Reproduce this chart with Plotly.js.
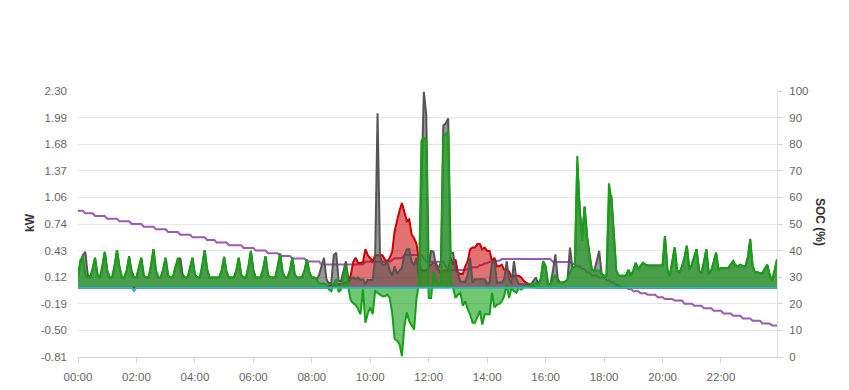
<!DOCTYPE html>
<html>
<head>
<meta charset="utf-8">
<script src="https://cdn.plot.ly/plotly-3.0.1.min.js"></script>
<style>
html,body{margin:0;padding:0;background:#fff;}
#chart{width:849px;height:390px;}
</style>
</head>
<body>
<div id="chart"></div>
<script>
// 5-minute samples, 00:00 .. 23:55 (one row = one hour)
const loadKw = [
0.12,0.30,0.38,0.42,0.15,0.12,0.22,0.35,0.15,0.12,0.25,0.42,
0.20,0.12,0.12,0.25,0.44,0.25,0.12,0.12,0.20,0.37,0.20,0.12,
0.12,0.22,0.35,0.14,0.12,0.12,0.26,0.45,0.20,0.12,0.12,0.22,
0.35,0.14,0.12,0.12,0.25,0.30,0.35,0.15,0.12,0.12,0.22,0.35,
0.15,0.12,0.12,0.25,0.44,0.22,0.12,0.12,0.12,0.12,0.12,0.20,
0.36,0.18,0.12,0.12,0.12,0.20,0.35,0.15,0.12,0.12,0.25,0.43,
0.20,0.12,0.12,0.12,0.22,0.37,0.15,0.12,0.12,0.12,0.25,0.40,
0.18,0.12,0.12,0.20,0.35,0.15,0.12,0.12,0.12,0.20,0.33,0.18,
0.12,0.12,0.10,0.15,0.25,0.35,0.10,0.05,0.06,0.38,0.41,0.08,
0.08,0.20,0.31,0.10,0.10,0.12,0.10,0.12,0.09,0.10,0.04,0.09,
0.09,0.09,0.35,2.04,0.37,0.27,0.27,0.31,0.20,0.14,0.25,0.16,
0.20,0.23,0.38,0.45,0.45,0.30,0.27,0.35,0.12,1.20,2.29,2.02,
0.23,0.43,0.42,0.25,0.23,0.30,1.90,1.92,1.98,0.41,0.41,0.20,
0.17,0.07,0.07,0.07,0.15,0.35,0.06,0.10,0.10,0.10,0.10,0.10,
0.04,0.06,0.31,0.31,0.06,0.06,0.06,0.10,0.31,0.10,0.04,0.31,
0.10,0.04,0.04,0.04,0.04,0.04,0.04,0.08,0.12,0.04,0.10,0.31,
0.25,0.04,0.04,0.20,0.39,0.10,0.06,0.06,0.07,0.10,0.47,0.23,
0.25,1.45,0.92,0.60,0.95,0.60,0.37,0.21,0.20,0.30,0.43,0.16,
0.14,0.14,1.00,1.08,0.65,0.20,0.14,0.14,0.14,0.14,0.21,0.14,
0.20,0.29,0.22,0.26,0.29,0.27,0.26,0.26,0.26,0.26,0.26,0.26,
0.26,0.60,0.21,0.14,0.30,0.47,0.20,0.18,0.25,0.35,0.49,0.21,
0.27,0.35,0.45,0.20,0.17,0.30,0.45,0.16,0.20,0.30,0.41,0.21,
0.23,0.23,0.23,0.23,0.27,0.31,0.26,0.25,0.27,0.25,0.25,0.35,
0.57,0.25,0.18,0.18,0.17,0.17,0.22,0.27,0.15,0.08,0.20,0.33
];
const pvKw = [
0,0,0,0,0,0,0,0,0,0,0,0,
0,0,0,0,0,0,0,0,0,0,0,0,
0,0,0,0,0,0,0,0,0,0,0,0,
0,0,0,0,0,0,0,0,0,0,0,0,
0,0,0,0,0,0,0,0,0,0,0,0,
0,0,0,0,0,0,0,0,0,0,0,0,
0,0,0,0,0,0,0,0,0,0,0,0,
0,0,0,0,0,0,0,0,0,0,0,0,
0,0,0,0,0,0,0,0.02,0.03,0.03,0.04,0.04,
0.04,0.05,0.06,0.06,0.15,0.30,0.35,0.29,0.29,0.30,0.45,0.38,
0.35,0.31,0.38,0.38,0.38,0.38,0.33,0.31,0.35,0.42,0.66,0.80,
0.90,0.99,0.89,0.78,0.80,0.62,0.58,0.51,0.31,0.20,0.20,0.20,
0.25,0.27,0.29,0.29,0.21,0.17,0.20,0.20,0.20,0.35,0.27,0.33,
0.18,0.16,0.16,0.25,0.31,0.45,0.47,0.47,0.51,0.51,0.45,0.47,
0.43,0.43,0.31,0.35,0.25,0.25,0.27,0.21,0.21,0.19,0.12,0.14,
0.14,0.14,0.12,0.08,0.06,0.04,0.03,0.02,0,0,0,0,
0,0,0,0,0,0,0,0,0,0,0,0,
0,0,0,0,0,0,0,0,0,0,0,0,
0,0,0,0,0,0,0,0,0,0,0,0,
0,0,0,0,0,0,0,0,0,0,0,0,
0,0,0,0,0,0,0,0,0,0,0,0,
0,0,0,0,0,0,0,0,0,0,0,0,
0,0,0,0,0,0,0,0,0,0,0,0,
0,0,0,0,0,0,0,0,0,0,0,0
];
const batteryKw = [
0.12,0.33,0.35,0.15,0.12,0.12,0.22,0.35,0.15,0.12,0.25,0.42,
0.20,0.12,0.12,0.25,0.44,0.25,0.12,0.12,0.20,0.36,0.15,0.12,
0.12,0.22,0.35,0.14,0.12,0.12,0.26,0.45,0.20,0.12,0.12,0.22,
0.35,0.14,0.12,0.12,0.25,0.35,0.20,0.12,0.12,0.12,0.22,0.35,
0.15,0.12,0.12,0.25,0.44,0.22,0.12,0.12,0.12,0.12,0.12,0.20,
0.36,0.18,0.12,0.12,0.12,0.20,0.35,0.15,0.12,0.12,0.25,0.43,
0.20,0.12,0.12,0.12,0.22,0.37,0.15,0.12,0.12,0.12,0.25,0.40,
0.18,0.12,0.12,0.20,0.35,0.15,0.12,0.12,0.12,0.20,0.33,0.18,
0.12,0.12,0.10,0.05,0.05,0.05,0.04,-0.02,-0.04,0.05,0.10,-0.05,
-0.02,0.15,0.27,0.00,-0.15,-0.18,-0.20,-0.25,-0.31,-0.02,-0.41,-0.30,
-0.23,-0.31,-0.04,-0.06,-0.08,-0.10,-0.10,-0.08,-0.12,-0.30,-0.60,-0.62,
-0.66,-0.80,-0.45,-0.29,-0.39,-0.45,-0.49,-0.12,0.04,1.72,1.75,1.72,
-0.12,-0.12,0.19,0.08,0.05,0.04,1.75,1.80,1.83,0.08,0.00,-0.12,
-0.08,-0.06,-0.21,-0.16,-0.25,-0.31,-0.41,-0.41,-0.35,-0.27,-0.43,-0.31,
-0.31,-0.31,-0.06,-0.23,-0.20,-0.19,-0.16,-0.10,0.04,-0.12,0.00,-0.04,
-0.06,0.00,-0.02,0.00,0.02,0.02,0.03,0.04,0.06,0.02,0.10,0.31,
0.25,0.04,0.04,0.10,0.15,0.06,0.06,0.06,0.07,0.10,0.17,0.23,
0.25,1.54,0.90,0.55,0.95,0.60,0.37,0.21,0.20,0.20,0.20,0.16,
0.14,0.14,1.22,1.03,0.60,0.20,0.14,0.14,0.14,0.14,0.21,0.14,
0.20,0.29,0.22,0.26,0.29,0.27,0.26,0.26,0.26,0.26,0.26,0.26,
0.26,0.60,0.21,0.14,0.30,0.47,0.20,0.18,0.25,0.35,0.49,0.21,
0.27,0.35,0.45,0.20,0.17,0.30,0.45,0.16,0.20,0.30,0.41,0.21,
0.23,0.23,0.23,0.23,0.27,0.31,0.26,0.25,0.27,0.25,0.25,0.35,
0.55,0.25,0.18,0.18,0.17,0.17,0.22,0.27,0.15,0.08,0.20,0.33
];
const gridKw = [
0,0,0,0,0,0,0,0,0,0,0,0,
0,0,0,0,0,0,0,0,0,0,0,-0.04,
0,0,0,0,0,0,0,0,0,0,0,0,
0,0,0,0,0,0,0,0,0,0,0,0,
0,0,0,0,0,0,0,0,0,0,0,0,
0,0,0,0,0,0,0,0,0,0,0,0,
0,0,0,0,0,0,0,0,0,0,0,0,
0,0,0,0,0,0,0,0,0,0,0,0,
0,0,0,0,0,0,0,0,0,0,0,0,
0,0,0,0,0,0,0,0,0,0,0,0,
0,0,0,0,0,0,0,0,0,0,0,0,
0,0,0,0,0,0,0,0,0,0,0,0,
0,0,0,0,0,0,0,0,0,0,0,0,
0,0,0,0,0,0,0,0,0,0,0,0,
0,0,0,0,0,0,0,0,0,0,0,0,
0,0,0,0,0,0,0,0,0,0,0,0,
0,0,0,0,0,0,0,0,0,0,0,0,
0,0,0,0,0,0,0,0,0,0,0,0,
0,0,0,0,0,0,0,0,0,0,0,0,
0,0,0,0,0,0,0,0,0,0,0,0,
0,0,0,0,0,0,0,0,0,0,0,0,
0,0,0,0,0,0,0,0,0,0,0,0,
0,0,0,0,0,0,0,0,0,0,0,0,
0,0,0,0,0,0,0,0,0,0,0,0
];
const socPct = [
55,55,55,54,54,54,54,53,53,53,53,53,
52,52,52,52,52,51,51,51,51,51,50,50,
50,50,50,49,49,49,49,49,48,48,48,48,
48,47,47,47,47,47,46,46,46,46,46,45,
45,45,45,45,45,44,44,44,44,43,43,43,
43,43,42,42,42,42,42,42,41,41,41,41,
41,40,40,40,40,40,39,39,39,39,39,38,
38,38,38,38,37,37,37,37,37,37,35.9,35.9,
35.9,35.9,35.9,35.9,34.8,34.8,34.8,34.8,34.8,34.8,34.8,34.8,
34.8,34.8,34.8,34.8,34.8,34.8,34.8,34.8,34.8,34.8,35.8,35.8,
35.8,35.8,35.8,35.8,35.8,35.8,35.8,35.8,35.8,36.5,37.1,37.1,
37.1,37.1,38.3,38.3,38.3,38.3,38.3,38.3,38.3,38.3,37.0,35.8,
35.8,35.8,35.8,35.8,35.8,35.8,35.8,34.0,32.7,32.7,32.7,32.7,
32.7,32.7,32.7,32.7,33.2,33.2,33.7,33.7,33.7,34.6,34.6,35.2,
35.2,35.8,35.8,35.8,36.2,36.2,36.8,36.8,36.8,36.8,36.8,36.8,
36.8,36.8,36.8,36.8,36.8,36.8,36.8,36.8,36.8,36.8,36.8,36.8,
36.8,36.8,36.8,35.7,35.7,35.7,35.7,35.7,35.7,35.7,35.7,35.0,
35.0,34.0,34.0,33.1,33.1,31.8,31.8,30.6,30.6,30.6,29.9,29.9,
29.9,28.9,28.9,28.0,28.0,27.0,27.0,26.2,26.2,26.2,25.6,25.6,
24.7,24.7,24.7,24.0,24.0,24.0,23.4,23.4,23.4,23.4,22.5,22.5,
22.5,21.8,21.8,21.8,21.8,21.2,21.2,21.2,21.2,20.0,20.0,20.0,
20.0,19.3,19.3,19.3,19.3,18.3,18.3,18.3,18.3,17.4,17.4,17.4,
17.4,16.4,16.4,16.4,16.4,15.5,15.5,15.5,15.5,14.5,14.5,14.5,
14.5,13.6,13.6,13.6,13.6,12.6,12.6,12.6,12.6,11.8,11.8,11.8
];
const kwTickVals = [-0.81,-0.499,-0.188,0.123,0.434,0.745,1.056,1.367,1.678,1.989,2.30];
const kwTickText = ['-0.81','-0.50','-0.19','0.12','0.43','0.74','1.06','1.37','1.68','1.99','2.30'];
const socTickVals = [0,10,20,30,40,50,60,70,80,90,100];

// time axis (5-minute steps)
const times = [];
for (let i = 0; i < loadKw.length; i++) {
  const h = String(Math.floor(i / 12)).padStart(2, '0');
  const m = String((i % 12) * 5).padStart(2, '0');
  times.push('2024-01-01 ' + h + ':' + m);
}

const traces = [
  {x: times, y: socPct, yaxis: 'y', type: 'scatter', mode: 'lines', name: 'SOC',
   line: {color: '#9b59b6', width: 2}},
  {x: times, y: pvKw, yaxis: 'y2', type: 'scatter', mode: 'lines', name: 'PV',
   line: {color: '#cc0000', width: 2}, fill: 'tozeroy', fillcolor: 'rgba(204,0,0,0.55)'},
  {x: times, y: loadKw, yaxis: 'y2', type: 'scatter', mode: 'lines', name: 'Load',
   line: {color: '#555555', width: 2}, fill: 'tozeroy', fillcolor: 'rgba(85,85,85,0.6)'},
  {x: times, y: batteryKw, yaxis: 'y2', type: 'scatter', mode: 'lines', name: 'Battery',
   line: {color: '#16a016', width: 2}, fill: 'tozeroy', fillcolor: 'rgba(22,160,22,0.6)'},
  {x: times, y: gridKw, yaxis: 'y2', type: 'scatter', mode: 'lines', name: 'Grid',
   line: {color: '#2bb5c4', width: 2}}
];

const tickFont = {family: 'Liberation Sans, Arial, sans-serif', size: 11.5, color: '#666'};
const layout = {
  width: 849, height: 390,
  margin: {l: 78, r: 72, t: 91, b: 33, pad: 0},
  paper_bgcolor: '#fff', plot_bgcolor: '#fff',
  showlegend: false,
  hovermode: false,
  xaxis: {
    type: 'date',
    range: [times[0], times[times.length - 1]],
    tickformat: '%H:%M', dtick: 7200000, tick0: '2024-01-01 00:00',
    showgrid: false, zeroline: false,
    showline: true, linecolor: '#d4d4d4', linewidth: 1,
    ticks: 'outside', ticklen: 5, tickcolor: '#d4d4d4',
    tickfont: tickFont, ticklabelstandoff: 4
  },
  yaxis: {
    side: 'right', range: [0, 100], tickvals: socTickVals,
    showgrid: true, gridcolor: '#e6e6e6', zeroline: false,
    showline: true, linecolor: '#e0e0e0', linewidth: 1,
    ticks: 'outside', ticklen: 5, tickcolor: '#d4d4d4',
    tickfont: tickFont, ticklabelstandoff: 4
  },
  yaxis2: {
    overlaying: 'y', side: 'left', range: [-0.81, 2.30],
    tickvals: kwTickVals, ticktext: kwTickText,
    showgrid: false, zeroline: false, showline: false, ticks: '',
    tickfont: tickFont, ticklabelstandoff: 10
  },
  annotations: [
    {text: '<b>kW</b>', xref: 'paper', yref: 'paper', x: -0.0687, y: 0.5075,
     xanchor: 'center', yanchor: 'middle', textangle: -90, showarrow: false,
     font: {family: 'Liberation Sans, Arial, sans-serif', size: 12, color: '#333'}},
    {text: '<b>SOC (%)</b>', xref: 'paper', yref: 'paper', x: 1.0615, y: 0.5075,
     xanchor: 'center', yanchor: 'middle', textangle: 90, showarrow: false,
     font: {family: 'Liberation Sans, Arial, sans-serif', size: 12, color: '#333'}}
  ]
};

Plotly.newPlot('chart', traces, layout, {staticPlot: true, displayModeBar: false});
</script>
</body>
</html>
